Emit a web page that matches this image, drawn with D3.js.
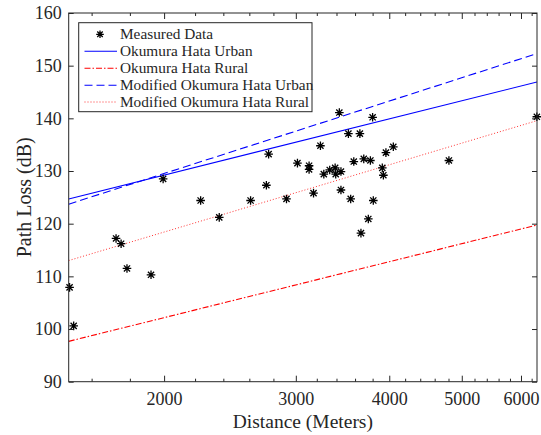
<!DOCTYPE html>
<html>
<head>
<meta charset="utf-8">
<script src="https://cdn.jsdelivr.net/npm/d3@7"></script>
<style>
  html, body { margin: 0; padding: 0; background: #fff; }
  svg { display: block; }
  text { font-family: "Liberation Serif", "Times New Roman", serif; fill: #262626; }
</style>
</head>
<body>
<svg id="chart" width="541" height="435"></svg>
<script>
// ---- data ----
const distances = [1495, 1514, 1725, 1752, 1784, 1921, 1994, 2238, 2370, 2610, 2740, 2759, 2915, 3015,
  3125, 3125, 3168, 3236, 3270, 3330, 3386, 3392, 3430, 3447, 3447, 3527, 3552, 3586, 3654, 3666,
  3698, 3750, 3774, 3800, 3808, 3915, 3928, 3959, 4050, 4806, 6300];
const pathLoss = [107.9, 100.6, 117.2, 116.2, 111.5, 110.3, 128.5, 124.4, 121.2, 124.4, 127.3, 133.2, 124.7, 131.5,
  131.0, 130.3, 125.8, 134.8, 129.4, 130.2, 130.6, 129.4, 141.1, 126.4, 129.9, 137.1, 124.7, 131.8, 137.1, 118.2,
  132.3, 120.9, 132.0, 140.2, 124.4, 130.6, 129.2, 133.5, 134.6, 132.0, 140.3];

const lineDist = [1491, 6303];
const okUrban = [124.7, 146.9];
const okRural = [97.66, 119.75];
const modUrban = [123.7, 152.3];
const modRural = [113.0, 139.56];

const xMajorTicks = [2000, 3000, 4000, 5000, 6000];
const xMinorTicks = [1600, 1800, 2200, 2400, 2600, 2800, 3200, 3400, 3600, 3800, 4200, 4400, 4600, 4800,
  5200, 5400, 5600, 5800, 6200];
const yTicks = [90, 100, 110, 120, 130, 140, 150, 160];

const legendLabels = ["Measured Data", "Okumura Hata Urban", "Okumura Hata Rural",
  "Modified Okumura Hata Urban", "Modified Okumura Hata Rural"];

// ---- layout ----
const L = 68.7, R = 537, T = 13, B = 381.7;
const svg = d3.select("#chart");
const x = d3.scaleLog().domain([1491, 6303]).range([L, R]);
const y = d3.scaleLinear().domain([90, 160]).range([B, T]);
const axisColor = "#262626";

const series = [
  { vals: okUrban, color: "#0000ff", dash: null, width: 1.1 },
  { vals: okRural, color: "#ff0000", dash: "6,2,1.5,2", width: 1.1 },
  { vals: modUrban, color: "#0000ff", dash: "8,4", width: 1.1 },
  { vals: modRural, color: "#ff3333", dash: "1,2", width: 1 }
];

const plot = svg.append("g");
svg.append("clipPath").attr("id", "clip")
  .append("rect").attr("x", L).attr("y", T).attr("width", R - L).attr("height", B - T);

const line = d3.line().x(d => x(d[0])).y(d => y(d[1]));
const lines = plot.append("g").attr("clip-path", "url(#clip)");
series.forEach(s => {
  lines.append("path")
    .datum(lineDist.map((d, i) => [d, s.vals[i]]))
    .attr("d", line)
    .attr("fill", "none")
    .attr("stroke", s.color)
    .attr("stroke-width", s.width)
    .attr("stroke-dasharray", s.dash);
});

// star marker
function star(r) {
  const d = r * 0.72;
  return `M${-r},0L${r},0M0,${-r}L0,${r}M${-d},${-d}L${d},${d}M${-d},${d}L${d},${-d}`;
}
plot.append("g").selectAll("path")
  .data(distances.map((d, i) => [d, pathLoss[i]]))
  .join("path")
  .attr("transform", d => `translate(${x(d[0])},${y(d[1])})`)
  .attr("d", star(4.3))
  .attr("stroke", "#000")
  .attr("stroke-width", 1.3)
  .attr("fill", "none");

// ---- axes ----
function styleAxis(g) {
  g.selectAll("path").attr("stroke", axisColor);
  g.selectAll("line").attr("stroke", axisColor);
  g.selectAll("text").style("font-size", "18px").attr("fill", axisColor);
}
svg.append("g").attr("transform", `translate(0,${B})`)
  .call(d3.axisBottom(x).tickValues(xMajorTicks).tickFormat(d3.format("d")).tickSizeInner(-6).tickSizeOuter(0).tickPadding(11))
  .call(styleAxis).call(g => g.select(".domain").remove());
svg.append("g").attr("transform", `translate(0,${B})`)
  .call(d3.axisBottom(x).tickValues(xMinorTicks).tickFormat("").tickSizeInner(-3).tickSizeOuter(0))
  .call(styleAxis).call(g => g.select(".domain").remove());
svg.append("g").attr("transform", `translate(0,${T})`)
  .call(d3.axisTop(x).tickValues(xMajorTicks).tickFormat("").tickSizeInner(-6).tickSizeOuter(0))
  .call(styleAxis).call(g => g.select(".domain").remove());
svg.append("g").attr("transform", `translate(0,${T})`)
  .call(d3.axisTop(x).tickValues(xMinorTicks).tickFormat("").tickSizeInner(-3).tickSizeOuter(0))
  .call(styleAxis).call(g => g.select(".domain").remove());
svg.append("g").attr("transform", `translate(${L},0)`)
  .call(d3.axisLeft(y).tickValues(yTicks).tickSizeInner(-5).tickSizeOuter(0).tickPadding(7))
  .call(styleAxis).call(g => g.select(".domain").remove());
svg.append("g").attr("transform", `translate(${R},0)`)
  .call(d3.axisRight(y).tickValues(yTicks).tickFormat("").tickSizeInner(-5).tickSizeOuter(0))
  .call(styleAxis).call(g => g.select(".domain").remove());

svg.append("rect").attr("x", L).attr("y", T).attr("width", R - L).attr("height", B - T)
  .attr("fill", "none").attr("stroke", axisColor).attr("stroke-width", 1);

// axis labels
svg.append("text").attr("x", (L + R) / 2).attr("y", 428).attr("text-anchor", "middle")
  .style("font-size", "19.5px").text("Distance (Meters)");
svg.append("text").attr("transform", `translate(31,${(T + B) / 2}) rotate(-90)`)
  .attr("text-anchor", "middle").style("font-size", "20px").text("Path Loss (dB)");

// ---- legend ----
const lg = svg.append("g");
lg.append("rect").attr("x", 78.7).attr("y", 22.7).attr("width", 312 - 78.7).attr("height", 111.7 - 22.7)
  .attr("fill", "#fff").attr("stroke", axisColor).attr("stroke-width", 1);
const rowY = [34.3, 51.3, 68.3, 85.3, 102];
legendLabels.forEach((lab, i) => {
  const yy = rowY[i];
  if (i === 0) {
    lg.append("path").attr("transform", `translate(100,${yy})`).attr("d", star(3.8))
      .attr("stroke", "#000").attr("stroke-width", 1.3).attr("fill", "none");
  } else {
    const s = series[i - 1];
    lg.append("line").attr("x1", 84.5).attr("x2", 117).attr("y1", yy).attr("y2", yy)
      .attr("stroke", s.color).attr("stroke-width", s.width).attr("stroke-dasharray", s.dash);
  }
  lg.append("text").attr("x", 120).attr("y", yy).attr("dy", "0.33em")
    .style("font-size", "15.3px").text(lab);
});
</script>
</body>
</html>
